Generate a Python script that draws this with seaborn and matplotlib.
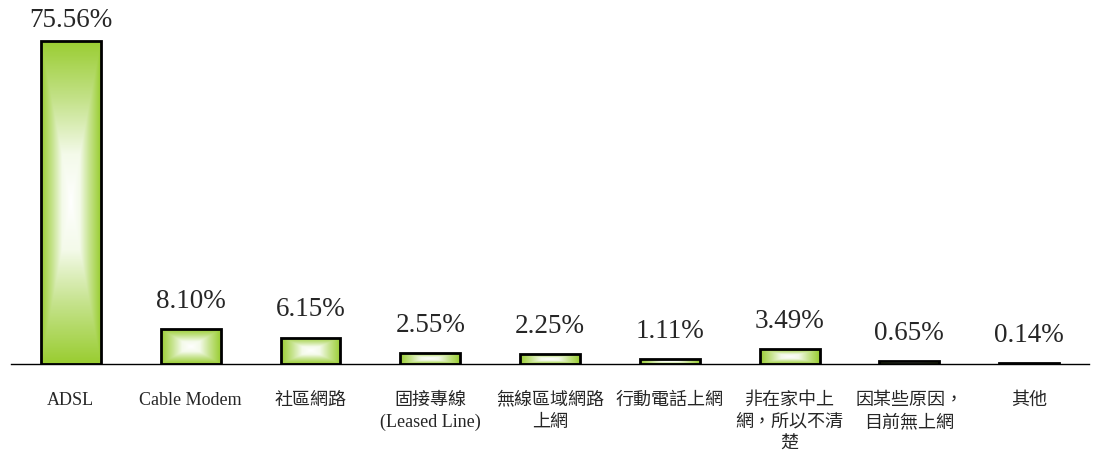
import numpy as np
import pandas as pd
import matplotlib
matplotlib.use("Agg")
import matplotlib.pyplot as plt
from matplotlib.colors import LinearSegmentedColormap
import seaborn as sns

# data
categories = ["ADSL", "Cable Modem", "社區網路", "固接專線\n(Leased Line)",
              "無線區域網路\n上網", "行動電話上網", "非在家中上\n網，所以不清\n楚",
              "因某些原因，\n目前無上網", "其他"]
values = [75.56, 8.10, 6.15, 2.55, 2.25, 1.11, 3.49, 0.65, 0.14]
value_labels = ["75.56%", "8.10%", "6.15%", "2.55%", "2.25%", "1.11%",
                "3.49%", "0.65%", "0.14%"]

df = pd.DataFrame({"cat": categories, "val": values})

sns.set_style("white")
plt.rcParams["font.family"] = ["Liberation Serif", "Noto Sans CJK TC", "DejaVu Sans"]

fig = plt.figure(figsize=(10.97, 4.57), dpi=100)
ax = fig.add_axes([11 / 1097, 93 / 457, 1078 / 1097, 342 / 457])

sns.barplot(data=df, x="cat", y="val", ax=ax, width=0.5,
            color="#9ACD32", edgecolor="black", linewidth=2.0, saturation=1)

# rectangular "from centre" gradient: white in the middle, green at the edges
cmap = LinearSegmentedColormap.from_list("g", ["#FFFFFF", "#F4FAEA", "#C4E28A", "#9ACD32"])
n = 200
u = np.linspace(-1, 1, n)
U, V = np.meshgrid(u, u)
grad = np.maximum(np.abs(U), np.abs(V)) ** 0.9

for p in ax.patches:
    x0, y0 = p.get_x(), p.get_y()
    w, h = p.get_width(), p.get_height()
    im = ax.imshow(grad, cmap=cmap, vmin=0, vmax=1, aspect="auto",
                   extent=(x0, x0 + w, y0, y0 + h), zorder=0.9,
                   interpolation="bilinear")
    im.set_clip_path(p)
    p.set_facecolor("none")
    p.set_zorder(1)

ymax = 80
for i, (v, lab) in enumerate(zip(values, value_labels)):
    # the tallest label is pushed down to stay inside the chart, as in the original
    off = 11 if v < 0.9 * ymax else 6
    ax.annotate(lab, (i, v), xytext=(0, off), textcoords="offset points",
                ha="center", va="bottom", fontsize=19.5,
                family=["Liberation Serif", "DejaVu Serif"], annotation_clip=False)

ax.set_xlim(-0.5, len(categories) - 0.5)
ax.set_ylim(0, ymax)
ax.set_yticks([])
ax.set_xlabel("")
ax.set_ylabel("")
for s in ["top", "right", "left"]:
    ax.spines[s].set_visible(False)
ax.spines["bottom"].set_color("black")
ax.spines["bottom"].set_linewidth(1.0)

ax.set_xticks(range(len(categories)))
ax.set_xticklabels(categories, fontsize=13, linespacing=1.4, va="top")
ax.tick_params(axis="x", which="major", length=0, pad=20)
ax.set_xticks(np.arange(-0.5, len(categories), 1), minor=True)
ax.tick_params(axis="x", which="minor", direction="in", length=4,
               color="#A0A0A0", width=0.8)

fig.savefig("out.png", dpi=100, facecolor="white")
